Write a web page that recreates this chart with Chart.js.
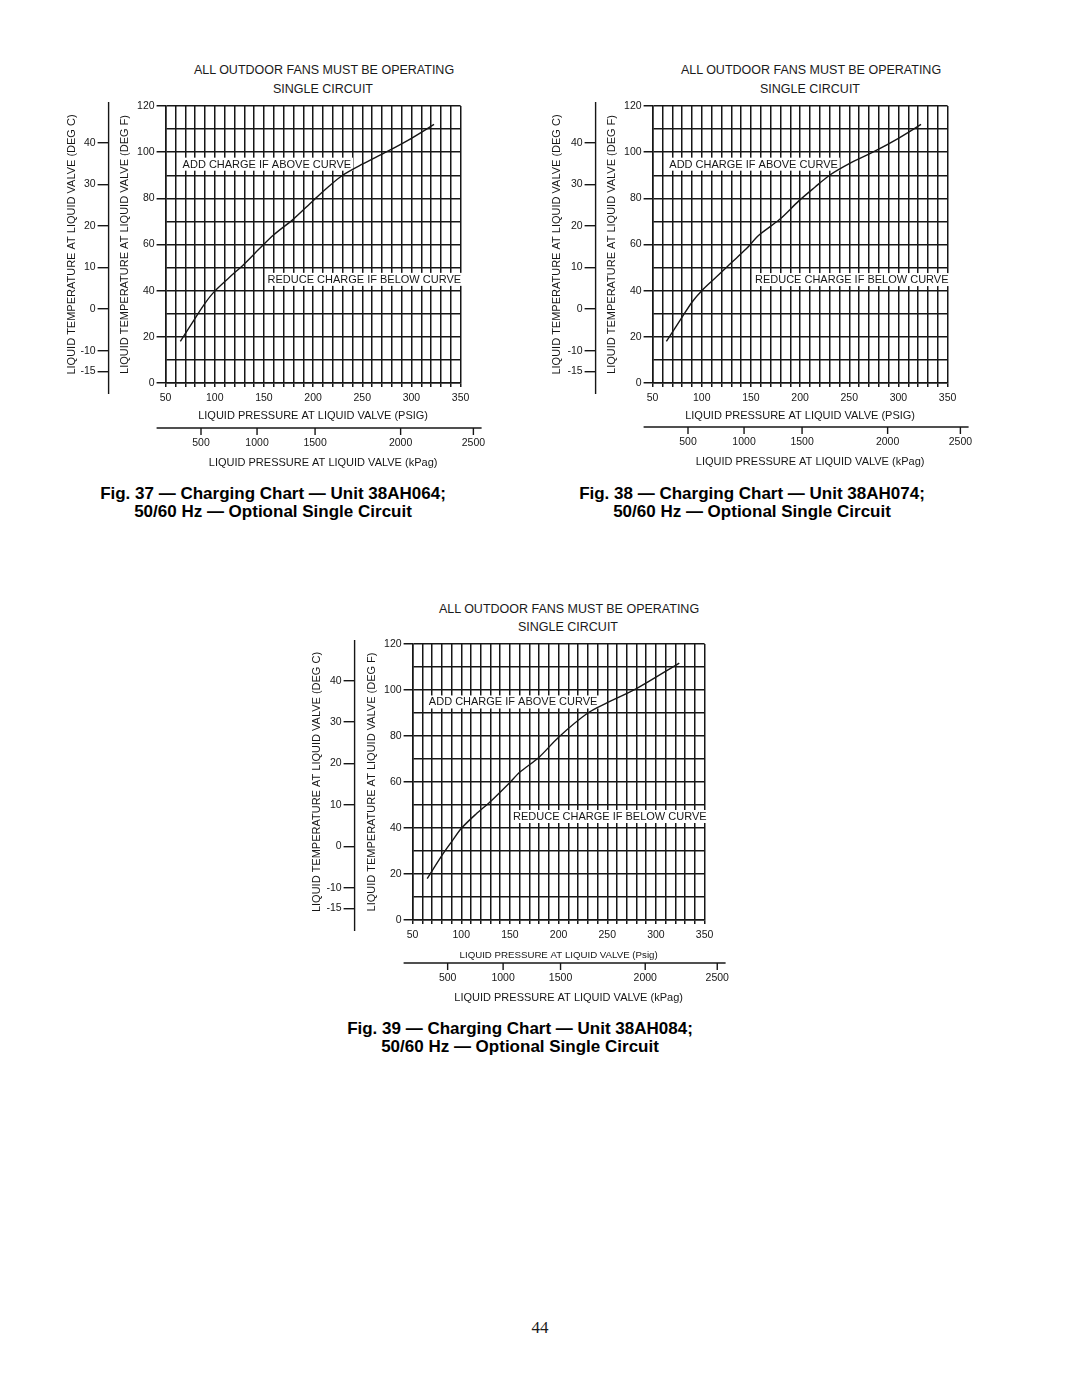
<!DOCTYPE html>
<html>
<head>
<meta charset="utf-8">
<title>Charging Charts 38AH064 / 38AH074 / 38AH084</title>
<script src="https://cdn.jsdelivr.net/npm/chart.js@4.4.1/dist/chart.umd.min.js"></script>
<style>
  body { margin: 0; background: #fff; }
  #page { position: relative; width: 1080px; height: 1397px; font-family: "Liberation Sans", Arial, Helvetica, sans-serif; color: #1a1a1a; overflow: hidden; }
  #page canvas { position: absolute; }
  .head { position: absolute; transform: translateX(-50%); white-space: nowrap; font-size: 12.5px; line-height: 14px; }
  .cap { position: absolute; transform: translateX(-50%); white-space: nowrap; text-align: center; font-weight: bold; font-size: 17px; line-height: 18px; color: #000; }
  .pg { position: absolute; left: 540px; top: 1318px; transform: translateX(-50%); font-family: "Liberation Serif", "DejaVu Serif", serif; font-size: 17px; line-height: 20px; }
</style>
</head>
<body>
<div id="page">
  <div class="head" style="left:324px; top:63px">ALL OUTDOOR FANS MUST BE OPERATING</div>
  <div class="head" style="left:323px; top:82px">SINGLE CIRCUIT</div>
  <div class="head" style="left:811px; top:63px">ALL OUTDOOR FANS MUST BE OPERATING</div>
  <div class="head" style="left:810px; top:82px">SINGLE CIRCUIT</div>
  <div class="head" style="left:569px; top:602px">ALL OUTDOOR FANS MUST BE OPERATING</div>
  <div class="head" style="left:568px; top:620px">SINGLE CIRCUIT</div>

  <canvas id="fig37"></canvas>
  <canvas id="fig38"></canvas>
  <canvas id="fig39"></canvas>

  <div class="cap" style="left:273px; top:485px">Fig. 37 — Charging Chart — Unit 38AH064;<br>50/60 Hz — Optional Single Circuit</div>
  <div class="cap" style="left:752px; top:485px">Fig. 38 — Charging Chart — Unit 38AH074;<br>50/60 Hz — Optional Single Circuit</div>
  <div class="cap" style="left:520px; top:1020px">Fig. 39 — Charging Chart — Unit 38AH084;<br>50/60 Hz — Optional Single Circuit</div>
  <div class="pg">44</div>
</div>

<script>
// Curves: liquid pressure (psig) -> liquid temperature (deg F)
const psig37 = [65, 80, 90, 100, 115, 130, 145, 160, 180, 200, 215, 230, 250, 275, 300, 323];
const degF37 = [18, 28, 34.5, 39.8, 45.8, 51.6, 58, 64.2, 71, 79, 84.8, 90, 94.8, 100.2, 106, 112];

const psig38 = [64, 80, 90, 100, 115, 129, 145, 158, 179, 199, 215, 230, 250, 275, 300, 323];
const degF38 = [18, 28.5, 35, 40, 46, 51.7, 58, 64, 70.8, 79, 84.8, 90, 95, 100.2, 106, 112];

const psig39 = [65, 80, 90, 100, 115, 130, 150, 160, 180, 200, 230, 250, 280, 324];
const degF39 = [18, 28, 34, 39.8, 46, 51.5, 59.8, 64.2, 70.8, 79.5, 90, 94.5, 100.6, 111.7];

// Tick labels of the extra axes
const degCTicks = [40, 30, 20, 10, 0, -10, -15];
const kpaTicks = [500, 1000, 1500, 2000, 2500];
// where the printed kPa ticks sit on the psig scale
const kpaTicksAtPsig = [86, 143, 202, 289, 363];

const fToC = f => (f - 32) * 5 / 9;
const INK = '#161616';

Chart.defaults.font.family = '"Liberation Sans", Arial, Helvetica, sans-serif';
Chart.defaults.color = INK;

// "ADD CHARGE / REDUCE CHARGE" notes, white box behind the text
const zoneLabels = {
  id: 'zoneLabels',
  beforeDatasetsDraw(chart, args, opts) {
    const ctx = chart.ctx;
    const x = chart.scales.x, y = chart.scales.y;
    ctx.save();
    ctx.font = '11px ' + Chart.defaults.font.family;
    ctx.textBaseline = 'middle';
    ctx.textAlign = 'left';
    opts.items.forEach(it => {
      const px = x.getPixelForValue(it.psig);
      const py = y.getPixelForValue(it.degF);
      const w = ctx.measureText(it.text).width;
      ctx.fillStyle = '#fff';
      ctx.fillRect(px - 2, py - 6.5, w + 4, 13);
      ctx.fillStyle = INK;
      ctx.fillText(it.text, px, py + 0.5);
    });
    ctx.restore();
  }
};

// kPa axis under the psig axis, plus the long deg C axis line
const extraAxes = {
  id: 'extraAxes',
  afterDraw(chart, args, opts) {
    const ctx = chart.ctx, a = chart.chartArea;
    const x = chart.scales.x, yc = chart.scales.yC;
    ctx.save();
    ctx.strokeStyle = INK;
    ctx.lineWidth = 1.4;

    ctx.beginPath();
    ctx.moveTo(yc.right, a.top - 4);
    ctx.lineTo(yc.right, a.bottom + 11);
    ctx.stroke();

    const ly = a.bottom + opts.dy;
    ctx.beginPath();
    ctx.moveTo(a.left - 9, ly);
    ctx.lineTo(a.right + 21, ly);
    ctx.stroke();

    ctx.fillStyle = INK;
    ctx.textAlign = 'center';
    ctx.textBaseline = 'middle';
    ctx.font = '10.5px ' + Chart.defaults.font.family;
    kpaTicks.forEach((k, i) => {
      const px = x.getPixelForValue(kpaTicksAtPsig[i]);
      ctx.beginPath();
      ctx.moveTo(px, ly);
      ctx.lineTo(px, ly + 7);
      ctx.stroke();
      ctx.fillText(k, px, ly + 15);
    });
    ctx.font = '11px ' + Chart.defaults.font.family;
    ctx.fillText('LIQUID PRESSURE AT LIQUID VALVE (kPag)', (a.left + a.right) / 2 + 10, ly + 35);
    ctx.restore();
  }
};

function buildChart(id, psig, degF, lay) {
  const canvas = document.getElementById(id);
  const p = lay.plot;
  const cLeft = lay.cTitleX - 8.6;          // left edge of the deg C axis box
  const left = cLeft - 6, top = p.t - 12;
  const width = Math.round(p.r + 38 - left), height = Math.round(p.b + 95 - top);
  canvas.style.left = left + 'px';
  canvas.style.top = top + 'px';
  canvas.width = width;
  canvas.height = height;
  canvas.style.width = width + 'px';
  canvas.style.height = height + 'px';

  const xAxisH = lay.xTitleDy + lay.xTitleSize * 0.6 + 2;

  new Chart(canvas, {
    type: 'line',
    data: {
      datasets: [{
        data: psig.map((v, i) => ({ x: v, y: degF[i] })),
        borderColor: INK,
        borderWidth: 1.4,
        pointRadius: 0,
        tension: 0.3,
        fill: false,
        xAxisID: 'x',
        yAxisID: 'y'
      }]
    },
    options: {
      responsive: false,
      animation: false,
      layout: {
        padding: { left: 6, top: 12, right: width - (p.r - left), bottom: height - (p.b - top) - xAxisH }
      },
      plugins: {
        legend: { display: false },
        tooltip: { enabled: false },
        zoneLabels: { items: lay.notes },
        extraAxes: { dy: lay.kpaDy }
      },
      scales: {
        x: {
          type: 'linear', position: 'bottom', min: 50, max: 350,
          afterFit: s => { s.height = xAxisH; },
          ticks: {
            stepSize: 10, autoSkip: false, maxRotation: 0, minRotation: 0, padding: 5,
            font: { size: 10.5 },
            callback: v => (v % 50 === 0 ? v : '')
          },
          grid: { color: INK, lineWidth: 1.5, tickLength: 4, tickColor: INK },
          border: { display: true, color: INK, width: 1.5 },
          title: { display: true, text: lay.xTitle, font: { size: lay.xTitleSize }, padding: { top: 0, bottom: 2 } }
        },
        y: {
          type: 'linear', position: 'left', weight: 0, min: 0, max: 120,
          afterFit: s => { s.width = p.l - lay.cAxisX; },
          ticks: {
            stepSize: 10, padding: 2, font: { size: 10.5 },
            callback: v => (v % 20 === 0 ? v : '')
          },
          grid: {
            color: INK, lineWidth: 1.5, tickLength: 9,
            tickColor: c => (c.tick && c.tick.value % 20 === 0 ? INK : 'rgba(0,0,0,0)')
          },
          border: { display: true, color: INK, width: 1.5 },
          title: {
            display: true, text: 'LIQUID TEMPERATURE AT LIQUID VALVE (DEG F)', font: { size: 11 },
            padding: { top: lay.fTitleX - 6.6 - lay.cAxisX, bottom: 0 }
          }
        },
        yC: {
          type: 'linear', position: 'left', weight: 1, min: fToC(0), max: fToC(120),
          afterBuildTicks: s => { s.ticks = degCTicks.map(v => ({ value: v })); },
          afterFit: s => { s.width = lay.cAxisX - cLeft; },
          ticks: { padding: 2, font: { size: 10.5 } },
          grid: { drawOnChartArea: false, tickLength: 11, color: INK, lineWidth: 1.4 },
          border: { display: false },
          title: {
            display: true, text: 'LIQUID TEMPERATURE AT LIQUID VALVE (DEG C)', font: { size: 11 },
            padding: { top: 2, bottom: 0 }
          }
        }
      }
    },
    plugins: [zoneLabels, extraAxes]
  });
}

buildChart('fig37', psig37, degF37, {
  plot: { l: 166, t: 106, r: 461, b: 383 },
  cAxisX: 109, cTitleX: 72, fTitleX: 125,
  xTitle: 'LIQUID PRESSURE AT LIQUID VALVE (PSIG)', xTitleSize: 11, xTitleDy: 33, kpaDy: 45,
  notes: [
    { text: 'ADD CHARGE IF ABOVE CURVE', psig: 67.3, degF: 94.8 },
    { text: 'REDUCE CHARGE IF BELOW CURVE', psig: 153.7, degF: 44.9 }
  ]
});

buildChart('fig38', psig38, degF38, {
  plot: { l: 653, t: 106, r: 948, b: 383 },
  cAxisX: 596, cTitleX: 557, fTitleX: 612,
  xTitle: 'LIQUID PRESSURE AT LIQUID VALVE (PSIG)', xTitleSize: 11, xTitleDy: 33, kpaDy: 44,
  notes: [
    { text: 'ADD CHARGE IF ABOVE CURVE', psig: 67, degF: 94.8 },
    { text: 'REDUCE CHARGE IF BELOW CURVE', psig: 154.1, degF: 44.8 }
  ]
});

buildChart('fig39', psig39, degF39, {
  plot: { l: 413, t: 644, r: 705, b: 920 },
  cAxisX: 355, cTitleX: 317, fTitleX: 372,
  xTitle: 'LIQUID PRESSURE AT LIQUID VALVE (Psig)', xTitleSize: 9.7, xTitleDy: 35, kpaDy: 43,
  notes: [
    { text: 'ADD CHARGE IF ABOVE CURVE', psig: 66.7, degF: 94.8 },
    { text: 'REDUCE CHARGE IF BELOW CURVE', psig: 153.2, degF: 45 }
  ]
});
</script>
</body>
</html>
